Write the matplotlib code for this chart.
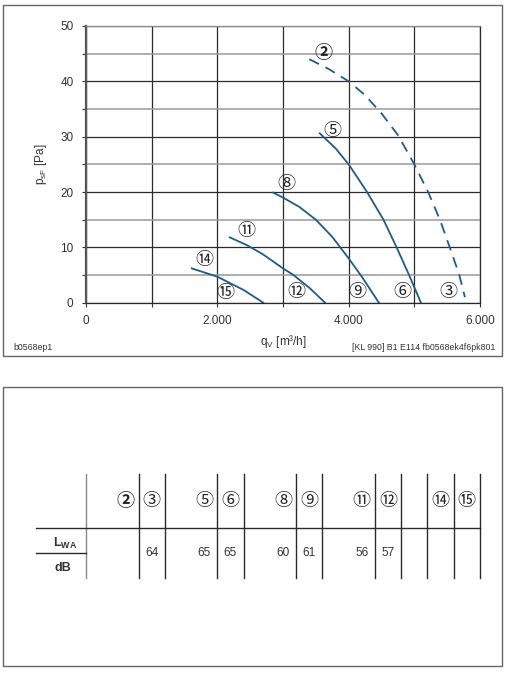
import matplotlib
matplotlib.use("Agg")
import matplotlib.pyplot as plt
from matplotlib.patches import Rectangle

plt.rcParams['font.family'] = ['Liberation Sans', 'DejaVu Sans']
plt.rcParams['mathtext.fontset'] = 'custom'
plt.rcParams['mathtext.rm'] = 'Liberation Sans'
plt.rcParams['mathtext.bf'] = 'Liberation Sans:bold'

# fan curves, q_V [m3/h] vs p_sF [Pa]
q_2 = [3400, 3700, 4000, 4250, 4500, 4750, 5000, 5210, 5390, 5540, 5685, 5770]
p_2 = [44.0, 42.2, 40.0, 37.5, 34.2, 30.3, 25.0, 20.0, 15.0, 10.0, 5.0, 1.0]
q_5 = [3560, 3800, 4000, 4280, 4530, 4730, 4920, 5100]
p_5 = [30.6, 27.9, 25.0, 20.0, 15.0, 10.0, 5.0, 0.0]
q_8 = [2850, 3000, 3250, 3500, 3750, 4000, 4200, 4460]
p_8 = [19.9, 19.0, 17.3, 15.0, 11.9, 8.0, 4.7, 0.0]
q_11 = [2190, 2450, 2700, 3000, 3160, 3410, 3640]
p_11 = [11.8, 10.4, 8.7, 6.2, 5.0, 2.6, 0.0]
q_14 = [1610, 2000, 2400, 2700]
p_14 = [6.2, 4.7, 2.3, 0.0]

# circled curve / operating point labels
label_names = ['②', '⑤', '⑧', '⑪', '⑭', '⑮', '⑫', '⑨', '⑥', '③']
label_q = [3624, 3756, 3056, 2436, 1802, 2122, 3208, 4132, 4822, 5523]
label_p = [45.2, 31.0, 21.4, 13.0, 7.7, 1.7, 1.9, 1.9, 1.9, 1.9]

x_tick_vals = [0, 2000, 4000, 6000]
x_tick_labels = ['0', '2.000', '4.000', '6.000']
y_tick_vals = [0, 10, 20, 30, 40, 50]

# sound power table
table_cols = [2, 3, 5, 6, 8, 9, 11, 12, 14, 15]
table_names = ['②', '③', '⑤', '⑥', '⑧', '⑨', '⑪', '⑫', '⑭', '⑮']
lwa_cols = [3, 5, 6, 8, 9, 11, 12]
lwa_vals = [64, 65, 65, 60, 61, 56, 57]
table_lines = [0, 2, 3, 5, 6, 8, 9, 11, 12, 13, 14, 15]
col_width = 400

curve_color = '#1f5b88'
text_color = '#333333'
circ_font = ['Noto Sans CJK JP', 'DejaVu Sans']

fig = plt.figure(figsize=(5.1, 6.8), dpi=100)
W, H = 510.0, 680.0

# frames
fig.patches.append(Rectangle((3 / W, 1 - 356 / H), 499 / W, 351 / H, transform=fig.transFigure,
                             fill=False, edgecolor='#666666', lw=1.0))
fig.patches.append(Rectangle((3 / W, 1 - 666 / H), 499 / W, 279 / H, transform=fig.transFigure,
                             fill=False, edgecolor='#666666', lw=1.0))

ax = fig.add_axes([86 / W, 1 - 302.7 / H, 394 / W, 276.7 / H])
ax.set_xlim(0, 6000)
ax.set_ylim(0, 50)
ax.set_xticks(x_tick_vals)
ax.set_xticklabels(x_tick_labels)
ax.set_xticks([1000, 3000, 5000], minor=True)
ax.set_yticks(y_tick_vals)
ax.set_yticks([5, 15, 25, 35, 45], minor=True)
ax.tick_params(which='both', length=3, width=0.8, color='#333333', labelsize=8.5, labelcolor=text_color)
ax.tick_params(axis='x', pad=6)
ax.tick_params(axis='y', pad=6)

ax.xaxis.grid(True, which='both', color='#2a2a2a', lw=0.9)
ax.yaxis.grid(True, which='major', color='#2a2a2a', lw=0.9)
ax.yaxis.grid(True, which='minor', color='#999999', lw=1.1)
ax.set_axisbelow(True)
for s in ax.spines.values():
    s.set_color('#2a2a2a')
    s.set_linewidth(0.9)
ax.spines['left'].set_color('#555555')
ax.spines['left'].set_linewidth(1.6)
ax.spines['top'].set_color('#888888')

ax.plot(q_2, p_2, color=curve_color, lw=1.3, dashes=(6, 4))
for q, p in [(q_5, p_5), (q_8, p_8), (q_11, p_11), (q_14, p_14)]:
    ax.plot(q, p, color=curve_color, lw=1.3)

for name, q, p in zip(label_names, label_q, label_p):
    ax.text(q, p, name, ha='center', va='center', fontsize=13, family=circ_font, color='#222222',
            fontweight='bold' if name == '②' else 'normal')

ax.set_ylabel(r'p$_{\mathregular{sF}}$ [Pa]', fontsize=8.5, color=text_color, labelpad=8)
ax.set_xlabel(r'q$_{\mathregular{V}}$ [m³/h]', fontsize=8.5, color=text_color, labelpad=4)

fig.text(13 / W, 1 - 347 / H, 'b0568ep1', fontsize=6.3, color=text_color, va='center', ha='left')
fig.text(495 / W, 1 - 347 / H, '[KL 990] B1 E114 fb0568ek4f6pk801', fontsize=6.3, color=text_color,
         va='center', ha='right')

# table
tx = fig.add_axes([86 / W, 1 - 578.3 / H, 394 / W, 104 / H])
tx.set_xlim(0, 6000)
tx.set_ylim(104, 0)
tx.axis('off')
for c in table_lines:
    tx.plot([c * col_width, c * col_width], [0, 104], color='#888888' if c == 0 else '#2a2a2a', lw=1.0,
            clip_on=False)
tx.plot([-760, 6000], [54, 54], color='#2a2a2a', lw=1.0, clip_on=False)
tx.plot([-760, 0], [79, 79], color='#2a2a2a', lw=1.0, clip_on=False)

for c, name in zip(table_cols, table_names):
    tx.text((c - 0.5) * col_width, 26.4, name, ha='center', va='center', fontsize=13, family=circ_font,
            color='#222222', fontweight='bold' if name == '②' else 'normal')
for c, v in zip(lwa_cols, lwa_vals):
    tx.text((c - 0.5) * col_width, 79, str(v), ha='center', va='center', fontsize=8.5, color=text_color)

tx.text(-320, 69, r'L$_{\mathbf{WA}}$', ha='center', va='center', fontsize=9, fontweight='bold',
        color=text_color)
tx.text(-355, 93.4, 'dB', ha='center', va='center', fontsize=9, fontweight='bold', color=text_color)

fig.savefig('out.png', dpi=100)
